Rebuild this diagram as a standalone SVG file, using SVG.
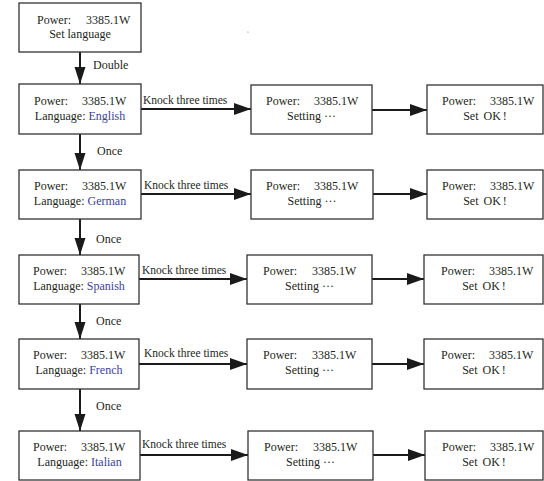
<svg xmlns="http://www.w3.org/2000/svg" width="544" height="481" viewBox="0 0 544 481">
<defs>
<style>
.box{fill:#fff;stroke:#333;stroke-width:1.3}
.t{font-family:"Liberation Serif","Times New Roman",serif;font-size:12px;fill:#231f20}
.c{text-anchor:middle}
.lang{fill:#3b3f9e}
.lbl{font-family:"Liberation Serif","Times New Roman",serif;font-size:11.5px;fill:#231f20}
.ln{stroke:#1a1a1a;stroke-width:2;fill:none}
.h{marker-end:url(#ah)}
.v{marker-end:url(#av)}
</style>
<marker id="ah" markerUnits="userSpaceOnUse" markerWidth="18" markerHeight="13" refX="17" refY="6" orient="auto"><path d="M0,0 L17,6 L0,12 Z" fill="#1a1a1a"/></marker>
<marker id="av" markerUnits="userSpaceOnUse" markerWidth="18" markerHeight="12" refX="17" refY="5.5" orient="auto"><path d="M0,0 L17,5.5 L0,11 Z" fill="#1a1a1a"/></marker>
</defs>
<rect width="544" height="481" fill="#fff"/>
<circle cx="248" cy="32" r="0.6" fill="#777"/>

<g id="connectors">
<line class="ln v" x1="80" y1="52" x2="80" y2="84"/>
<line class="ln v" x1="80" y1="134" x2="80" y2="170"/>
<line class="ln v" x1="80" y1="219" x2="80" y2="255"/>
<line class="ln v" x1="80" y1="304" x2="80" y2="339"/>
<line class="ln v" x1="80" y1="389" x2="80" y2="431"/>
<text class="t" x="93" y="69">Double</text>
<text class="t" x="97" y="155">Once</text>
<text class="t" x="96" y="243">Once</text>
<text class="t" x="96" y="325">Once</text>
<text class="t" x="96" y="410">Once</text>

<line class="ln h" x1="141" y1="109" x2="251" y2="109"/>
<line class="ln h" x1="141" y1="194" x2="251" y2="194"/>
<line class="ln h" x1="139" y1="279" x2="247" y2="279"/>
<line class="ln h" x1="139" y1="364" x2="247" y2="364"/>
<line class="ln h" x1="140" y1="455" x2="248" y2="455"/>
<text class="lbl" x="143" y="104">Knock three times</text>
<text class="lbl" x="144" y="189">Knock three times</text>
<text class="lbl" x="142" y="274">Knock three times</text>
<text class="lbl" x="144" y="357">Knock three times</text>
<text class="lbl" x="142" y="448">Knock three times</text>

<line class="ln h" x1="372" y1="110" x2="427" y2="110"/>
<line class="ln h" x1="373" y1="194" x2="427" y2="194"/>
<line class="ln h" x1="372" y1="279" x2="424" y2="279"/>
<line class="ln h" x1="372" y1="364" x2="424" y2="364"/>
<line class="ln h" x1="373" y1="455" x2="425" y2="455"/>
</g>

<g id="start">
<rect class="box" x="19" y="3" width="122" height="49"/>
<text class="t" x="37" y="24">Power:</text><text class="t" x="86" y="24">3385.1W</text>
<text class="t c" x="80" y="38">Set language</text>
</g>

<g id="english">
<rect class="box" x="19" y="84" width="122" height="50"/>
<text class="t" x="34" y="105">Power:</text><text class="t" x="82" y="105">3385.1W</text>
<text class="t c" x="80" y="120">Language: <tspan class="lang">English</tspan></text>
</g>
<g id="english-setting">
<rect class="box" x="251" y="85" width="121" height="49"/>
<text class="t" x="266" y="105">Power:</text><text class="t" x="314" y="105">3385.1W</text>
<text class="t c" x="311.5" y="120">Setting ···</text>
</g>
<g id="english-ok">
<rect class="box" x="427" y="85" width="116" height="49"/>
<text class="t" x="442" y="105">Power:</text><text class="t" x="490" y="105">3385.1W</text>
<text class="t c" x="485" y="120">Set <tspan dx="2">OK</tspan><tspan dx="2">!</tspan></text>
</g>

<g id="german">
<rect class="box" x="19" y="170" width="122" height="49"/>
<text class="t" x="34" y="190">Power:</text><text class="t" x="82" y="190">3385.1W</text>
<text class="t c" x="80" y="205">Language: <tspan class="lang">German</tspan></text>
</g>
<g id="german-setting">
<rect class="box" x="251" y="170" width="122" height="49"/>
<text class="t" x="266" y="190">Power:</text><text class="t" x="314" y="190">3385.1W</text>
<text class="t c" x="312" y="205">Setting ···</text>
</g>
<g id="german-ok">
<rect class="box" x="427" y="170" width="116" height="49"/>
<text class="t" x="442" y="190">Power:</text><text class="t" x="490" y="190">3385.1W</text>
<text class="t c" x="485" y="205">Set <tspan dx="2">OK</tspan><tspan dx="2">!</tspan></text>
</g>

<g id="spanish">
<rect class="box" x="19" y="255" width="120" height="49"/>
<text class="t" x="33" y="275">Power:</text><text class="t" x="81" y="275">3385.1W</text>
<text class="t c" x="79" y="290">Language: <tspan class="lang">Spanish</tspan></text>
</g>
<g id="spanish-setting">
<rect class="box" x="247" y="255" width="125" height="49"/>
<text class="t" x="263" y="275">Power:</text><text class="t" x="312" y="275">3385.1W</text>
<text class="t c" x="309.5" y="290">Setting ···</text>
</g>
<g id="spanish-ok">
<rect class="box" x="424" y="255" width="119" height="49"/>
<text class="t" x="441" y="275">Power:</text><text class="t" x="489" y="275">3385.1W</text>
<text class="t c" x="484" y="290">Set <tspan dx="2">OK</tspan><tspan dx="2">!</tspan></text>
</g>

<g id="french">
<rect class="box" x="19" y="339" width="120" height="50"/>
<text class="t" x="33" y="359">Power:</text><text class="t" x="81" y="359">3385.1W</text>
<text class="t c" x="79" y="374">Language: <tspan class="lang">French</tspan></text>
</g>
<g id="french-setting">
<rect class="box" x="247" y="339" width="125" height="50"/>
<text class="t" x="263" y="359">Power:</text><text class="t" x="312" y="359">3385.1W</text>
<text class="t c" x="309.5" y="374">Setting ···</text>
</g>
<g id="french-ok">
<rect class="box" x="424" y="339" width="119" height="50"/>
<text class="t" x="441" y="359">Power:</text><text class="t" x="489" y="359">3385.1W</text>
<text class="t c" x="484" y="374">Set <tspan dx="2">OK</tspan><tspan dx="2">!</tspan></text>
</g>

<g id="italian">
<rect class="box" x="19" y="431" width="121" height="49"/>
<text class="t" x="33" y="451">Power:</text><text class="t" x="81" y="451">3385.1W</text>
<text class="t c" x="79.5" y="466">Language: <tspan class="lang">Italian</tspan></text>
</g>
<g id="italian-setting">
<rect class="box" x="248" y="431" width="125" height="49"/>
<text class="t" x="264" y="451">Power:</text><text class="t" x="313" y="451">3385.1W</text>
<text class="t c" x="310.5" y="466">Setting ···</text>
</g>
<g id="italian-ok">
<rect class="box" x="425" y="431" width="118" height="49"/>
<text class="t" x="442" y="451">Power:</text><text class="t" x="490" y="451">3385.1W</text>
<text class="t c" x="484" y="466">Set <tspan dx="2">OK</tspan><tspan dx="2">!</tspan></text>
</g>
</svg>
